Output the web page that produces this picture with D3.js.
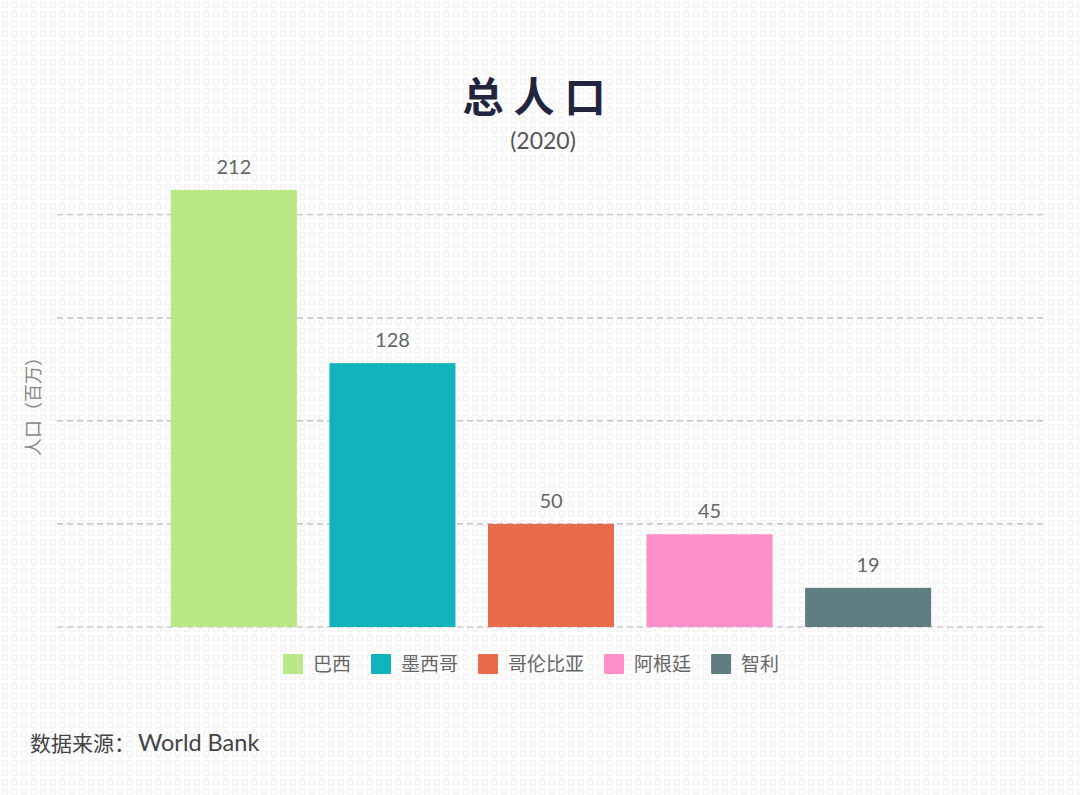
<!DOCTYPE html>
<html>
<head>
<meta charset="utf-8">
<script src="https://cdn.jsdelivr.net/npm/d3@7"></script>
<style>
  body { margin: 0; background: #fff; }
  svg { display: block; font-family: Lato, 'Noto Sans CJK SC', sans-serif; }
</style>
</head>
<body>
<div id="chart"></div>
<script>
// data
const countries = ['巴西', '墨西哥', '哥伦比亚', '阿根廷', '智利']
const population = [212, 128, 50, 45, 19]
const colors = ['#bae887', '#11b4bc', '#e86b4c', '#fe8fc9', '#607e81']
const yTicks = [0, 50, 100, 150, 200]

const width = 1080
const height = 795
const margin = { top: 190, right: 33, bottom: 168, left: 57 }

const svg = d3.select('#chart')
  .append('svg')
  .attr('width', width)
  .attr('height', height)

// faint background pattern
const defs = svg.append('defs')
const pat = defs.append('pattern')
  .attr('id', 'bg')
  .attr('width', 9.6)
  .attr('height', 9.6)
  .attr('patternUnits', 'userSpaceOnUse')
pat.append('rect')
  .attr('x', 2).attr('y', 2)
  .attr('width', 5.6).attr('height', 5.6)
  .attr('rx', 1.5)
  .attr('fill', 'none')
  .attr('stroke', '#eeeeee')
  .attr('stroke-width', 1.2)
svg.append('rect')
  .attr('width', width)
  .attr('height', height)
  .attr('fill', 'url(#bg)')

// scales
const baseY = 627
const ys = d3.scaleLinear()
  .domain([0, 212])
  .range([baseY, 190])
const xs = d3.scaleBand()
  .domain(countries)
  .range([155, 947])
  .paddingInner(0.205)
  .paddingOuter(0.1)

// grid
svg.append('g')
  .selectAll('line')
  .data(yTicks)
  .join('line')
  .attr('x1', margin.left)
  .attr('x2', width - margin.right)
  .attr('y1', d => ys(d))
  .attr('y2', d => ys(d))
  .attr('stroke', '#b8b8bf')
  .attr('stroke-width', 1.2)
  .attr('stroke-dasharray', '6,4')

// bars
const data = countries.map((c, i) => ({ c, v: population[i], color: colors[i] }))
svg.append('g')
  .selectAll('rect')
  .data(data)
  .join('rect')
  .attr('x', d => xs(d.c))
  .attr('y', d => ys(d.v))
  .attr('width', xs.bandwidth())
  .attr('height', d => baseY - ys(d.v))
  .attr('fill', d => d.color)

// value labels
svg.append('g')
  .selectAll('text')
  .data(data)
  .join('text')
  .attr('x', d => xs(d.c) + xs.bandwidth() / 2)
  .attr('y', d => ys(d.v) - 16)
  .attr('text-anchor', 'middle')
  .attr('font-size', 20)
  .attr('fill', '#666')
  .text(d => d.v)

// title
svg.append('text')
  .attr('x', 539)
  .attr('y', 112)
  .attr('text-anchor', 'middle')
  .attr('font-size', 41)
  .attr('font-weight', 'bold')
  .attr('letter-spacing', 10)
  .attr('fill', '#23253f')
  .text('总人口')
svg.append('text')
  .attr('x', 543)
  .attr('y', 149)
  .attr('text-anchor', 'middle')
  .attr('font-size', 23)
  .attr('fill', '#555')
  .text('(2020)')

// y label
svg.append('text')
  .attr('transform', 'translate(40,402) rotate(-90)')
  .attr('text-anchor', 'middle')
  .attr('font-size', 18)
  .attr('fill', '#888')
  .text('人口（百万）')

// legend
const legend = svg.append('g')
let lx = 283
data.forEach(d => {
  const g = legend.append('g').attr('transform', `translate(${lx},654)`)
  g.append('rect')
    .attr('width', 20).attr('height', 20)
    .attr('rx', 1)
    .attr('fill', d.color)
  const t = g.append('text')
    .attr('x', 30)
    .attr('y', 17)
    .attr('font-size', 19)
    .attr('fill', '#666')
    .text(d.c)
  lx += 30 + t.node().getComputedTextLength() + 20
})

// source
const src = svg.append('text')
  .attr('x', 30)
  .attr('y', 751)
  .attr('font-size', 21)
  .attr('fill', '#444')
src.append('tspan').text('数据来源：')
src.append('tspan').attr('dx', 3).attr('font-size', 23.5).text('World Bank')
</script>
</body>
</html>
